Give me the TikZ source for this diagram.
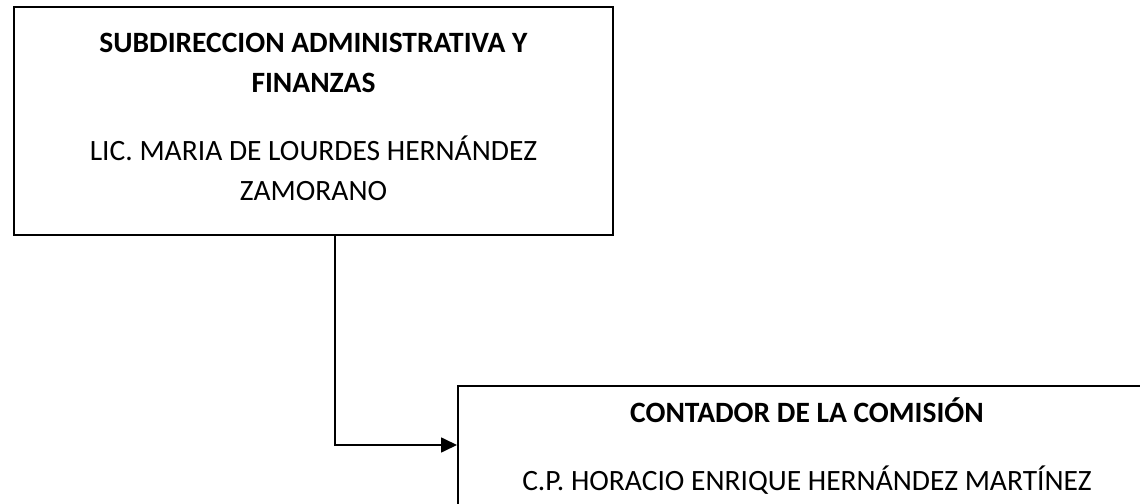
\documentclass[tikz,border=0pt]{standalone}
\usepackage{fontspec}
\setmainfont{Carlito}
\usetikzlibrary{arrows.meta}
\begin{document}
\begin{tikzpicture}[x=1bp,y=-1bp,
  box/.style={draw=black,line width=1.7bp,rectangle,inner sep=0pt},
  txt/.style={align=center,inner sep=0pt,font=\fontsize{29.5bp}{40bp}\selectfont},
  conn/.style={draw=black,line width=1.7bp}]
\useasboundingbox (0,0) rectangle (1140,504);
\clip (0,0) rectangle (1140,504);
\node[box,minimum width=599bp,minimum height=228bp] (top) at (313.5,121) {};
\node[txt] (toptext) at (313.5,117)
  {\textbf{SUBDIRECCION ADMINISTRATIVA Y}\\\textbf{FINANZAS}\\[28bp]LIC. MARIA DE LOURDES HERNÁNDEZ\\ZAMORANO};
\node[box,anchor=north west,minimum width=700bp,minimum height=160bp] (bot) at (457,385) {};
\node[txt] (bottext) at (807,446)
  {\textbf{CONTADOR DE LA COMISIÓN}\\[28bp]C.P. HORACIO ENRIQUE HERNÁNDEZ MARTÍNEZ};
\coordinate (j) at (335,445);
\draw[conn,-{Triangle[length=16bp,width=15bp]}] (top.south -| j) -- (j) -- (j -| bot.west);
\end{tikzpicture}
\end{document}
